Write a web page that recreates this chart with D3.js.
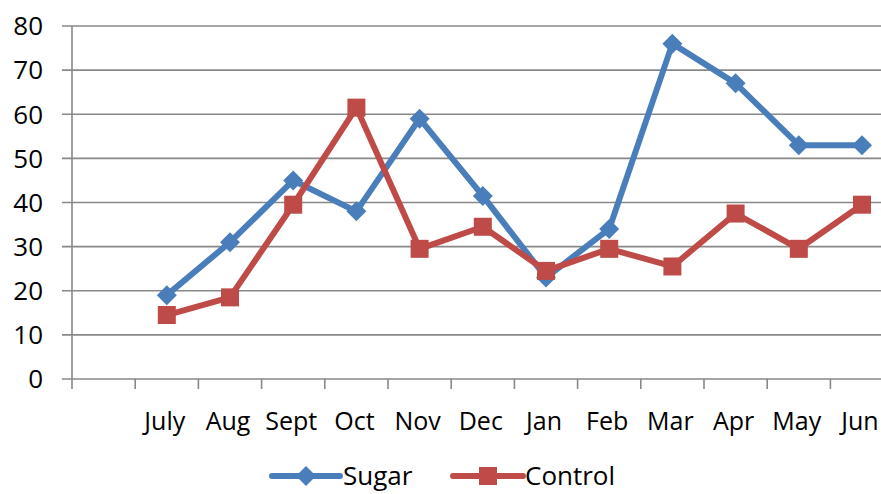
<!DOCTYPE html>
<html><head><meta charset="utf-8">
<script src="https://cdn.jsdelivr.net/npm/d3@7"></script>
<style>html,body{margin:0;padding:0;background:#fff;overflow:hidden}svg{display:block}text{font-family:"Open Sans",sans-serif;fill:#000}</style>
</head><body>
<svg id="c" width="881" height="494"></svg>
<script>
const categories = ["", "July","Aug","Sept","Oct","Nov","Dec","Jan","Feb","Mar","Apr","May","Jun"];
const sugar = [null, 19, 31, 45, 38, 59, 41.5, 23, 34, 76, 67, 53, 53];
const control = [null, 14.5, 18.5, 39.5, 61.5, 29.5, 34.5, 24.5, 29.5, 25.5, 37.5, 29.5, 39.5];
const yTicks = [0,10,20,30,40,50,60,70,80];
const seriesNames = ["Sugar","Control"];
const colors = ["#4a7ebb","#be4b48"];

const svg = d3.select("#c");
const x0 = 72, step = 63.2;
const x = d3.scaleBand().domain(categories).range([x0, x0 + step*categories.length]).paddingInner(0).paddingOuter(0);
const y = d3.scaleLinear().domain([0,80]).range([379,26]);

// gridlines
svg.append("g").selectAll("line").data(yTicks.filter(d=>d>0)).join("line")
  .attr("x1",62).attr("x2",881).attr("y1",d=>y(d)).attr("y2",d=>y(d))
  .attr("stroke","#888").attr("stroke-width",1.6);
// axes
svg.append("line").attr("x1",x0).attr("x2",x0).attr("y1",y(80)).attr("y2",y(0)+10).attr("stroke","#888").attr("stroke-width",1.6);
svg.append("line").attr("x1",62).attr("x2",881).attr("y1",y(0)).attr("y2",y(0)).attr("stroke","#888").attr("stroke-width",1.6);
svg.append("g").selectAll("text").data(yTicks).join("text")
  .attr("x",43).attr("y",d=>y(d)).attr("dy","0.36em").attr("text-anchor","end")
  .style("font-size","26px").text(d=>d);
// x ticks at band boundaries
svg.append("g").selectAll("line").data(categories.slice(1)).join("line")
  .attr("x1",d=>x(d)).attr("x2",d=>x(d)).attr("y1",y(0)).attr("y2",y(0)+10)
  .attr("stroke","#888").attr("stroke-width",1.6);
svg.append("g").selectAll("text").data(categories.filter(c=>c)).join("text")
  .attr("x",d=>x(d)+x.bandwidth()/2-2).attr("y",430).attr("text-anchor","middle")
  .style("font-size","25px").text(d=>d);

const cx = (d,i)=>x(categories[i])+x.bandwidth()/2;
const line = d3.line().defined(d=>d!=null).x((d,i)=>cx(d,i)).y(d=>y(d));
[sugar, control].forEach((s,k)=>{
  svg.append("path").datum(s).attr("d",line).attr("fill","none")
    .attr("stroke",colors[k]).attr("stroke-width",6).attr("stroke-linejoin","round");
});
const diamond = (cxp,cyp,r)=>`M${cxp},${cyp-r}L${cxp+r},${cyp}L${cxp},${cyp+r}L${cxp-r},${cyp}Z`;
svg.append("g").selectAll("path").data(sugar.map((v,i)=>({v,i})).filter(d=>d.v!=null)).join("path")
  .attr("d",d=>diamond(cx(d.v,d.i),y(d.v),10)).attr("fill",colors[0]);
svg.append("g").selectAll("rect").data(control.map((v,i)=>({v,i})).filter(d=>d.v!=null)).join("rect")
  .attr("x",d=>cx(d.v,d.i)-9).attr("y",d=>y(d.v)-9).attr("width",18).attr("height",18).attr("fill",colors[1]);

// legend
const legY = 476;
const leg = [{n:seriesNames[0],x1:272,x2:340,tx:343},{n:seriesNames[1],x1:453,x2:523,tx:525}];
leg.forEach((l,k)=>{
  svg.append("line").attr("x1",l.x1).attr("x2",l.x2).attr("y1",legY).attr("y2",legY).attr("stroke",colors[k]).attr("stroke-width",6).attr("stroke-linecap","round");
  const m=(l.x1+l.x2)/2;
  if(k===0) svg.append("path").attr("d",diamond(m,legY,10)).attr("fill",colors[0]);
  else svg.append("rect").attr("x",m-9).attr("y",legY-9).attr("width",18).attr("height",18).attr("fill",colors[1]);
  svg.append("text").attr("x",l.tx).attr("y",legY).attr("dy","0.36em").style("font-size","26px").text(l.n);
});
</script>
</body></html>
